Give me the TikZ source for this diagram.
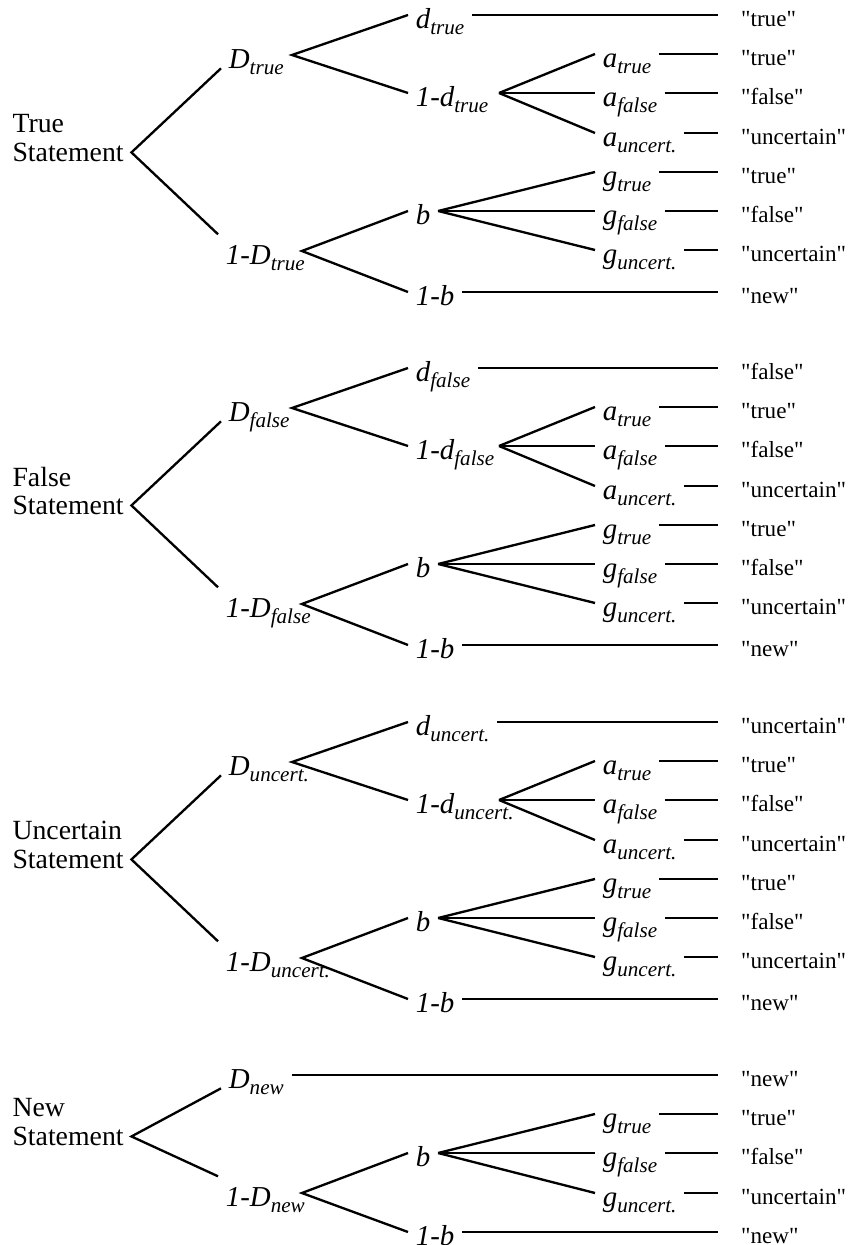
\documentclass[tikz,border=0pt]{standalone}
\usepackage{fontspec}
\setmainfont{Liberation Serif}
\usepackage{tikz}
\usetikzlibrary{calc}

\newcommand{\sublab}[2]{\mbox{#1\raisebox{-2.6pt}{\fontsize{9.5}{10}\selectfont #2}}}
\newcommand{\outq}[1]{\textquotedbl#1\textquotedbl}

\tikzset{
    stmt/.style={anchor=east, align=left, inner sep=1pt, font=\fontsize{12.5}{13}\selectfont},
    lbl/.style={anchor=west, inner xsep=3pt, inner ysep=1pt, text height=12pt, text depth=0pt,
        font=\fontsize{13}{15}\selectfont\itshape},
    fixlbl/.style={lbl, text width=#1, align=left},
    res/.style={anchor=west, inner xsep=9.9pt, inner ysep=1pt, text height=10pt, text depth=0pt,
        font=\fontsize{10.4}{12}\selectfont},
}

\begin{document}
\begin{tikzpicture}[x=0.45pt, y=-0.45pt, line width=1.05pt]
    \useasboundingbox (0,0) rectangle (848,1245);

    % true statement
    \node[stmt] (T) at (127,138) {True\\Statement};
    \coordinate (Tv) at ([xshift=2pt,yshift=-6.5pt]T.east);
    \node[fixlbl=24.9pt] (TD)  at (221,55)  {\sublab{D}{true}};
    \node[fixlbl=30.7pt] (TDn) at (218,251) {\sublab{1-D}{true}};
    \node[lbl]           (Td)  at (408,15)  {\sublab{d}{true}};
    \node[fixlbl=33.9pt] (Tdn) at (408,93)  {\sublab{1-d}{true}};
    \node[lbl]           (Tb)  at (408,211) {b};
    \node[lbl]           (Tbn) at (408,292) {1-b};
    \node[lbl] (Tat) at (595,54)  {\sublab{a}{true}};
    \node[lbl] (Taf) at (595,93)  {\sublab{a}{false}};
    \node[lbl] (Tau) at (595,133) {\sublab{a}{uncert.}};
    \node[lbl] (Tgt) at (595,172) {\sublab{g}{true}};
    \node[lbl] (Tgf) at (595,211) {\sublab{g}{false}};
    \node[lbl] (Tgu) at (595,250) {\sublab{g}{uncert.}};
    \node[res] (Tr0) at (718,15)  {\outq{true}};
    \node[res] (Tr1) at (718,54)  {\outq{true}};
    \node[res] (Tr2) at (718,93)  {\outq{false}};
    \node[res] (Tr3) at (718,133) {\outq{uncertain}};
    \node[res] (Tr4) at (718,172) {\outq{true}};
    \node[res] (Tr5) at (718,211) {\outq{false}};
    \node[res] (Tr6) at (718,250) {\outq{uncertain}};
    \node[res] (Tr7) at (718,292) {\outq{new}};
    \draw (TD.base west) -- (Tv) -- (TDn.north west);
    \draw (Td.west) -- (TD.east) -- (Tdn.west);
    \draw (Tb.west) -- (TDn.east) -- (Tbn.west);
    \draw (Tdn.east) -- (Tat.west);
    \draw (Tdn.east) -- (Taf.west);
    \draw (Tdn.east) -- (Tau.west);
    \draw (Tb.east) -- (Tgt.west);
    \draw (Tb.east) -- (Tgf.west);
    \draw (Tb.east) -- (Tgu.west);
    \draw (Td.east) -- (Tr0.west);
    \draw (Tat.east) -- (Tr1.west);
    \draw (Taf.east) -- (Tr2.west);
    \draw (Tau.east) -- (Tr3.west);
    \draw (Tgt.east) -- (Tr4.west);
    \draw (Tgf.east) -- (Tr5.west);
    \draw (Tgu.east) -- (Tr6.west);
    \draw (Tbn.east) -- (Tr7.west);

    % false statement
    \node[stmt] (F) at (127,491) {False\\Statement};
    \coordinate (Fv) at ([xshift=2pt,yshift=-6.5pt]F.east);
    \node[fixlbl=24.9pt] (FD)  at (221,408) {\sublab{D}{false}};
    \node[fixlbl=30.7pt] (FDn) at (218,604) {\sublab{1-D}{false}};
    \node[lbl]           (Fd)  at (408,368) {\sublab{d}{false}};
    \node[fixlbl=33.9pt] (Fdn) at (408,446) {\sublab{1-d}{false}};
    \node[lbl]           (Fb)  at (408,564) {b};
    \node[lbl]           (Fbn) at (408,645) {1-b};
    \node[lbl] (Fat) at (595,407) {\sublab{a}{true}};
    \node[lbl] (Faf) at (595,446) {\sublab{a}{false}};
    \node[lbl] (Fau) at (595,486) {\sublab{a}{uncert.}};
    \node[lbl] (Fgt) at (595,525) {\sublab{g}{true}};
    \node[lbl] (Fgf) at (595,564) {\sublab{g}{false}};
    \node[lbl] (Fgu) at (595,603) {\sublab{g}{uncert.}};
    \node[res] (Fr0) at (718,368) {\outq{false}};
    \node[res] (Fr1) at (718,407) {\outq{true}};
    \node[res] (Fr2) at (718,446) {\outq{false}};
    \node[res] (Fr3) at (718,486) {\outq{uncertain}};
    \node[res] (Fr4) at (718,525) {\outq{true}};
    \node[res] (Fr5) at (718,564) {\outq{false}};
    \node[res] (Fr6) at (718,603) {\outq{uncertain}};
    \node[res] (Fr7) at (718,645) {\outq{new}};
    \draw (FD.base west) -- (Fv) -- (FDn.north west);
    \draw (Fd.west) -- (FD.east) -- (Fdn.west);
    \draw (Fb.west) -- (FDn.east) -- (Fbn.west);
    \draw (Fdn.east) -- (Fat.west);
    \draw (Fdn.east) -- (Faf.west);
    \draw (Fdn.east) -- (Fau.west);
    \draw (Fb.east) -- (Fgt.west);
    \draw (Fb.east) -- (Fgf.west);
    \draw (Fb.east) -- (Fgu.west);
    \draw (Fd.east) -- (Fr0.west);
    \draw (Fat.east) -- (Fr1.west);
    \draw (Faf.east) -- (Fr2.west);
    \draw (Fau.east) -- (Fr3.west);
    \draw (Fgt.east) -- (Fr4.west);
    \draw (Fgf.east) -- (Fr5.west);
    \draw (Fgu.east) -- (Fr6.west);
    \draw (Fbn.east) -- (Fr7.west);

    % uncertain statement
    \node[stmt] (U) at (127,845) {Uncertain\\Statement};
    \coordinate (Uv) at ([xshift=2pt,yshift=-6.5pt]U.east);
    \node[fixlbl=24.9pt] (UD)  at (221,762) {\sublab{D}{uncert.}};
    \node[fixlbl=30.7pt] (UDn) at (218,958) {\sublab{1-D}{uncert.}};
    \node[lbl]           (Ud)  at (408,722) {\sublab{d}{uncert.}};
    \node[fixlbl=33.9pt] (Udn) at (408,800) {\sublab{1-d}{uncert.}};
    \node[lbl]           (Ub)  at (408,918) {b};
    \node[lbl]           (Ubn) at (408,999) {1-b};
    \node[lbl] (Uat) at (595,761) {\sublab{a}{true}};
    \node[lbl] (Uaf) at (595,800) {\sublab{a}{false}};
    \node[lbl] (Uau) at (595,840) {\sublab{a}{uncert.}};
    \node[lbl] (Ugt) at (595,879) {\sublab{g}{true}};
    \node[lbl] (Ugf) at (595,918) {\sublab{g}{false}};
    \node[lbl] (Ugu) at (595,957) {\sublab{g}{uncert.}};
    \node[res] (Ur0) at (718,722) {\outq{uncertain}};
    \node[res] (Ur1) at (718,761) {\outq{true}};
    \node[res] (Ur2) at (718,800) {\outq{false}};
    \node[res] (Ur3) at (718,840) {\outq{uncertain}};
    \node[res] (Ur4) at (718,879) {\outq{true}};
    \node[res] (Ur5) at (718,918) {\outq{false}};
    \node[res] (Ur6) at (718,957) {\outq{uncertain}};
    \node[res] (Ur7) at (718,999) {\outq{new}};
    \draw (UD.base west) -- (Uv) -- (UDn.north west);
    \draw (Ud.west) -- (UD.east) -- (Udn.west);
    \draw (Ub.west) -- (UDn.east) -- (Ubn.west);
    \draw (Udn.east) -- (Uat.west);
    \draw (Udn.east) -- (Uaf.west);
    \draw (Udn.east) -- (Uau.west);
    \draw (Ub.east) -- (Ugt.west);
    \draw (Ub.east) -- (Ugf.west);
    \draw (Ub.east) -- (Ugu.west);
    \draw (Ud.east) -- (Ur0.west);
    \draw (Uat.east) -- (Ur1.west);
    \draw (Uaf.east) -- (Ur2.west);
    \draw (Uau.east) -- (Ur3.west);
    \draw (Ugt.east) -- (Ur4.west);
    \draw (Ugf.east) -- (Ur5.west);
    \draw (Ugu.east) -- (Ur6.west);
    \draw (Ubn.east) -- (Ur7.west);

    % new statement
    \node[stmt] (N) at (127,1122) {New\\Statement};
    \coordinate (Nv) at ([xshift=2pt,yshift=-6.5pt]N.east);
    \node[lbl]           (ND)  at (221,1075) {\sublab{D}{new}};
    \node[fixlbl=30.7pt] (NDn) at (218,1193) {\sublab{1-D}{new}};
    \node[lbl]           (Nb)  at (408,1153) {b};
    \node[lbl]           (Nbn) at (408,1232) {1-b};
    \node[lbl] (Ngt) at (595,1114) {\sublab{g}{true}};
    \node[lbl] (Ngf) at (595,1153) {\sublab{g}{false}};
    \node[lbl] (Ngu) at (595,1193) {\sublab{g}{uncert.}};
    \node[res] (Nr0) at (718,1075) {\outq{new}};
    \node[res] (Nr1) at (718,1114) {\outq{true}};
    \node[res] (Nr2) at (718,1153) {\outq{false}};
    \node[res] (Nr3) at (718,1193) {\outq{uncertain}};
    \node[res] (Nr4) at (718,1232) {\outq{new}};
    \draw (ND.base west) -- (Nv) -- (NDn.north west);
    \draw (Nb.west) -- (NDn.east) -- (Nbn.west);
    \draw (Nb.east) -- (Ngt.west);
    \draw (Nb.east) -- (Ngf.west);
    \draw (Nb.east) -- (Ngu.west);
    \draw (ND.east) -- (Nr0.west);
    \draw (Ngt.east) -- (Nr1.west);
    \draw (Ngf.east) -- (Nr2.west);
    \draw (Ngu.east) -- (Nr3.west);
    \draw (Nbn.east) -- (Nr4.west);
\end{tikzpicture}
\end{document}
